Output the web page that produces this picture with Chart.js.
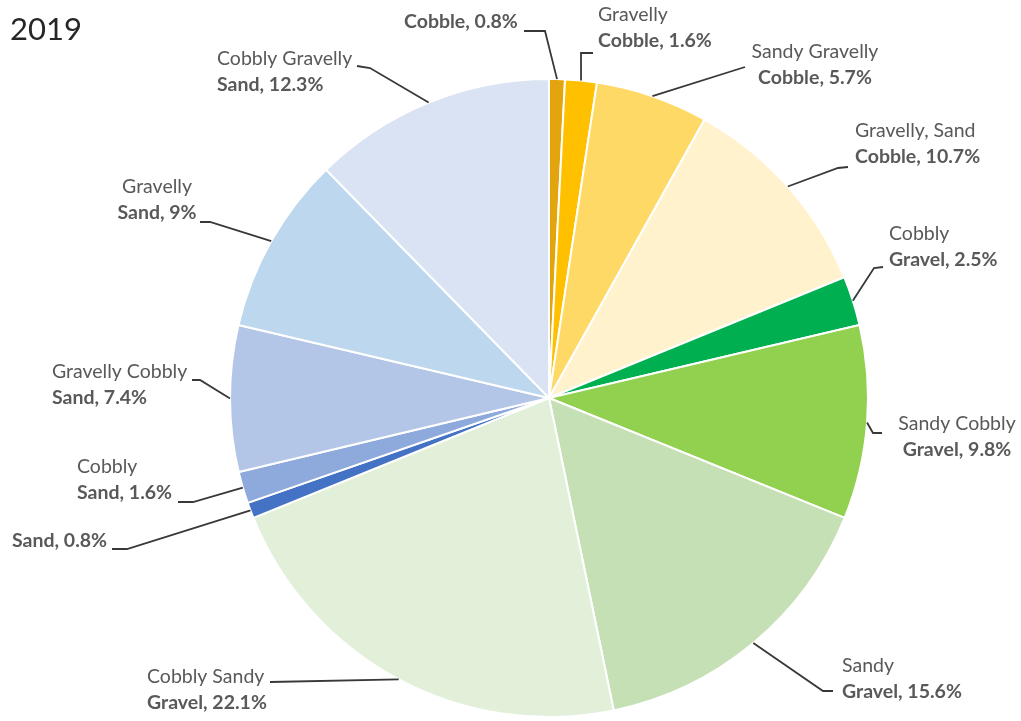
<!DOCTYPE html>
<html>
<head>
<meta charset="utf-8">
<title>2019</title>
<script src="https://cdn.jsdelivr.net/npm/chart.js@4/dist/chart.umd.min.js"></script>
<style>
  html, body { margin: 0; padding: 0; background: #fff; }
  canvas { display: block; }
</style>
</head>
<body>
<canvas id="pie" width="1021" height="721"></canvas>
<script>
// Soil texture classes, clockwise from 12 o'clock
const nameTop = [
  '', 'Gravelly', 'Sandy Gravelly', 'Gravelly, Sand', 'Cobbly', 'Sandy Cobbly',
  'Sandy', 'Cobbly Sandy', '', 'Cobbly', 'Gravelly Cobbly', 'Gravelly', 'Cobbly Gravelly'
];
const nameBottom = [
  'Cobble', 'Cobble', 'Cobble', 'Cobble', 'Gravel', 'Gravel',
  'Gravel', 'Gravel', 'Sand', 'Sand', 'Sand', 'Sand', 'Sand'
];
const percent = [0.8, 1.6, 5.7, 10.7, 2.5, 9.8, 15.6, 22.1, 0.8, 1.6, 7.4, 9, 12.3];
const sliceColors = [
  '#e2a50e', '#ffc000', '#ffd966', '#fff2cc', '#00b050', '#92d050',
  '#c5e0b4', '#e2f0d9', '#4472c4', '#8ea9db', '#b4c6e7', '#bdd7ee', '#dae3f3'
];

// Label placement: text anchor (first-line baseline), alignment,
// and the leader line start + elbow. The far end sits on the slice edge.
const labelLayout = [
  { x: 404, y: 28,  align: 'left',   start: [524, 31],  elbow: [545, 31] },
  { x: 598, y: 21,  align: 'left',   start: [593, 53],  elbow: [581, 53] },
  { x: 815, y: 58,  align: 'center', start: [745, 67],  elbow: [745, 67] },
  { x: 855, y: 137, align: 'left',   start: [848, 167], elbow: [838, 168] },
  { x: 889, y: 240, align: 'left',   start: [883, 267], elbow: [874, 268] },
  { x: 957, y: 430, align: 'center', start: [882, 433], elbow: [873, 433] },
  { x: 842, y: 672, align: 'left',   start: [833, 691], elbow: [823, 691] },
  { x: 147, y: 683, align: 'left',   start: [270, 682], elbow: [270, 682] },
  { x: 12,  y: 547, align: 'left',   start: [112, 549], elbow: [127, 549] },
  { x: 77,  y: 473, align: 'left',   start: [178, 502], elbow: [193, 502] },
  { x: 52,  y: 378, align: 'left',   start: [192, 380], elbow: [200, 380] },
  { x: 157, y: 193, align: 'center', start: [200, 222], elbow: [210, 222] },
  { x: 217, y: 65,  align: 'left',   start: [357, 66],  elbow: [370, 68] }
];

const FONT = 'Lato, "Open Sans", sans-serif';
const LINE_GAP = 26;

// Draws the two-line callouts and their leader lines
const calloutPlugin = {
  id: 'callouts',
  afterDraw(chart) {
    const ctx = chart.ctx;
    const arcs = chart.getDatasetMeta(0).data;
    ctx.save();

    // title
    ctx.fillStyle = '#262626';
    ctx.font = '31px ' + FONT;
    ctx.textAlign = 'left';
    ctx.textBaseline = 'alphabetic';
    ctx.fillText('2019', 10, 40);

    arcs.forEach((arc, i) => {
      const L = labelLayout[i];
      const mid = (arc.startAngle + arc.endAngle) / 2;
      const ex = arc.x + Math.cos(mid) * arc.outerRadius;
      const ey = arc.y + Math.sin(mid) * arc.outerRadius;

      ctx.strokeStyle = '#383838';
      ctx.lineWidth = 1.8;
      ctx.beginPath();
      ctx.moveTo(L.start[0], L.start[1]);
      ctx.lineTo(L.elbow[0], L.elbow[1]);
      ctx.lineTo(ex, ey);
      ctx.stroke();

      ctx.textAlign = L.align;
      ctx.fillStyle = '#595959';
      const bottom = nameBottom[i] + ', ' + percent[i] + '%';
      if (nameTop[i]) {
        ctx.font = '19.5px ' + FONT;
        ctx.fillText(nameTop[i], L.x, L.y);
        ctx.font = 'bold 19.5px ' + FONT;
        ctx.fillText(bottom, L.x, L.y + LINE_GAP);
      } else {
        ctx.font = 'bold 19.5px ' + FONT;
        ctx.fillText(bottom, L.x, L.y);
      }
    });
    ctx.restore();
  }
};

new Chart(document.getElementById('pie'), {
  type: 'pie',
  data: {
    labels: nameTop.map((t, i) => (t ? t + ' ' : '') + nameBottom[i]),
    datasets: [{
      data: percent,
      backgroundColor: sliceColors,
      borderColor: '#ffffff',
      borderWidth: 2
    }]
  },
  options: {
    responsive: false,
    animation: false,
    events: [],
    layout: { padding: { top: 78, bottom: 3, left: 229, right: 152 } },
    plugins: {
      legend: { display: false },
      tooltip: { enabled: false }
    }
  },
  plugins: [calloutPlugin]
});
</script>
</body>
</html>
